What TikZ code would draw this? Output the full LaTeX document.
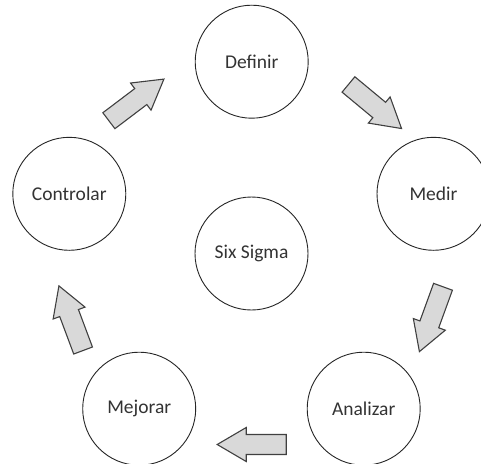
\documentclass[tikz,border=0pt]{standalone}
\usepackage{fontspec}
\setmainfont{Carlito}
\begin{document}
\begin{tikzpicture}[x=1pt,y=-1pt,
  phase/.style={circle,draw=black!85,line width=0.9pt,fill=white,
    minimum size=113pt,inner sep=0pt,font=\fontsize{19.5pt}{22pt}\selectfont,text=black!80},
  pics/blockarrow/.style={code={
    \draw[draw=black!75,fill=black!15,line width=1.1pt,line join=miter]
      (-34.5,-10) -- (5.5,-10) -- (5.5,-17) -- (34.5,0) -- (5.5,17)
      -- (5.5,10) -- (-34.5,10) -- cycle;}}]
\clip (0,0) rectangle (481,463);
\fill[white] (0,0) rectangle (481,463);

% the five DMAIC phases around the centre
\node[phase] (def) at (251.7,61.7) {Definir};
\node[phase] (med) at (433.5,193.8) {Medir};
\node[phase] (ana) at (363.7,408.7) {Analizar};
\node[phase] (mej) at (139.2,408.7) {Mejorar};
\node[phase] (con) at (69.3,193.8) {Controlar};
\node[phase] (six) at (251.5,253.5) {Six Sigma};

% block arrows between consecutive phases
\coordinate (a1) at (136.4,99.9);
\coordinate (a2) at (375.0,106.5);
\coordinate (a3) at (431.2,319.2);
\coordinate (a4) at (251.7,444.5);
\coordinate (a5) at (71.0,318.2);
\pic[rotate=37.1]  at (a1) {blockarrow};
\pic[rotate=-39.7] at (a2) {blockarrow};
\pic[rotate=-110]  at (a3) {blockarrow};
\pic[rotate=180]   at (a4) {blockarrow};
\pic[rotate=110.5] at (a5) {blockarrow};
\end{tikzpicture}
\end{document}
